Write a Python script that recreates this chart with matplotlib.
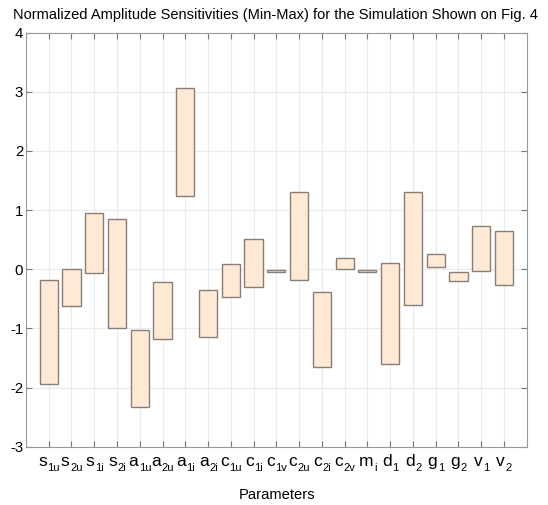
import numpy as np
import matplotlib
matplotlib.use('Agg')
import matplotlib.pyplot as plt

plt.rcParams['font.family'] = ['Liberation Sans', 'DejaVu Sans']
plt.rcParams['axes.unicode_minus'] = False

# parameter names (base letter, subscript)
names = ['s', 's', 's', 's', 'a', 'a', 'a', 'a', 'c', 'c', 'c', 'c', 'c', 'c',
         'm', 'd', 'd', 'g', 'g', 'v', 'v']
subs = ['1u', '2u', '1i', '2i', '1u', '2u', '1i', '2i', '1u', '1i', '1v', '2u', '2i', '2v',
        'i', '1', '2', '1', '2', '1', '2']

# max and min of each normalized sensitivity
max_vals = [-0.185, 0.0, 0.955, 0.843, -1.034, -0.22, 3.06, -0.354, 0.084, 0.517, -0.02,
            1.30, -0.39, 0.197, -0.02, 0.10, 1.31, 0.264, -0.04, 0.73, 0.65]
min_vals = [-1.945, -0.624, -0.067, -1.0, -2.33, -1.18, 1.23, -1.147, -0.466, -0.304, -0.05,
            -0.185, -1.65, 0.01, -0.04, -1.61, -0.607, 0.04, -0.2, -0.03, -0.275]

x = np.arange(1, len(names) + 1)
heights = np.array(max_vals) - np.array(min_vals)

fig = plt.figure(figsize=(5.48, 5.05), dpi=100)
ax = fig.add_axes([0.0474, 0.1154, 0.9137, 0.8202])

ax.bar(x, heights, bottom=min_vals, width=0.8, color='#fde9d4',
       edgecolor='#8a7f78', linewidth=1.0, zorder=3)

ax.set_xlim(0, 22)
ax.set_ylim(-3, 4)
ax.set_xticks(x)
ax.set_xticklabels([])
ax.set_yticks(range(-3, 5))
ax.tick_params(axis='y', labelsize=10.8, pad=2)
ax.tick_params(direction='in', top=True, right=True, color='#777777', length=4)
ax.grid(True, color='#ebebeb', linewidth=0.8, zorder=0)
for sp in ax.spines.values():
    sp.set_color('#999999')

# tick labels with subscripts, drawn as two texts so sizes can differ
pairs = []
for xi, n, s in zip(x, names, subs):
    tb = ax.annotate(n, xy=(xi, 0), xycoords=('data', 'axes fraction'), xytext=(0, -19),
                     textcoords='offset pixels', ha='left', va='baseline', fontsize=12.5)
    ts = ax.annotate(s, xy=(xi, 0), xycoords=('data', 'axes fraction'), xytext=(0, -24.5),
                     textcoords='offset pixels', ha='left', va='baseline', fontsize=8)
    pairs.append((tb, ts))

fig.canvas.draw()
r = fig.canvas.get_renderer()
for tb, ts in pairs:
    wb = tb.get_window_extent(r).width
    ws = ts.get_window_extent(r).width
    start = -(wb + ws) / 2
    tb.xyann = (start, -19)
    ts.xyann = (start + wb + 0.5, -24.5)

fig.text(0.502, 0.9618, 'Normalized Amplitude Sensitivities (Min-Max) for the Simulation Shown on Fig. 4',
         fontsize=10.5, ha='center', va='baseline')
fig.text(0.5064, 0.012, 'Parameters', fontsize=10.6, ha='center', va='baseline')

fig.savefig('out.png', dpi=100)
